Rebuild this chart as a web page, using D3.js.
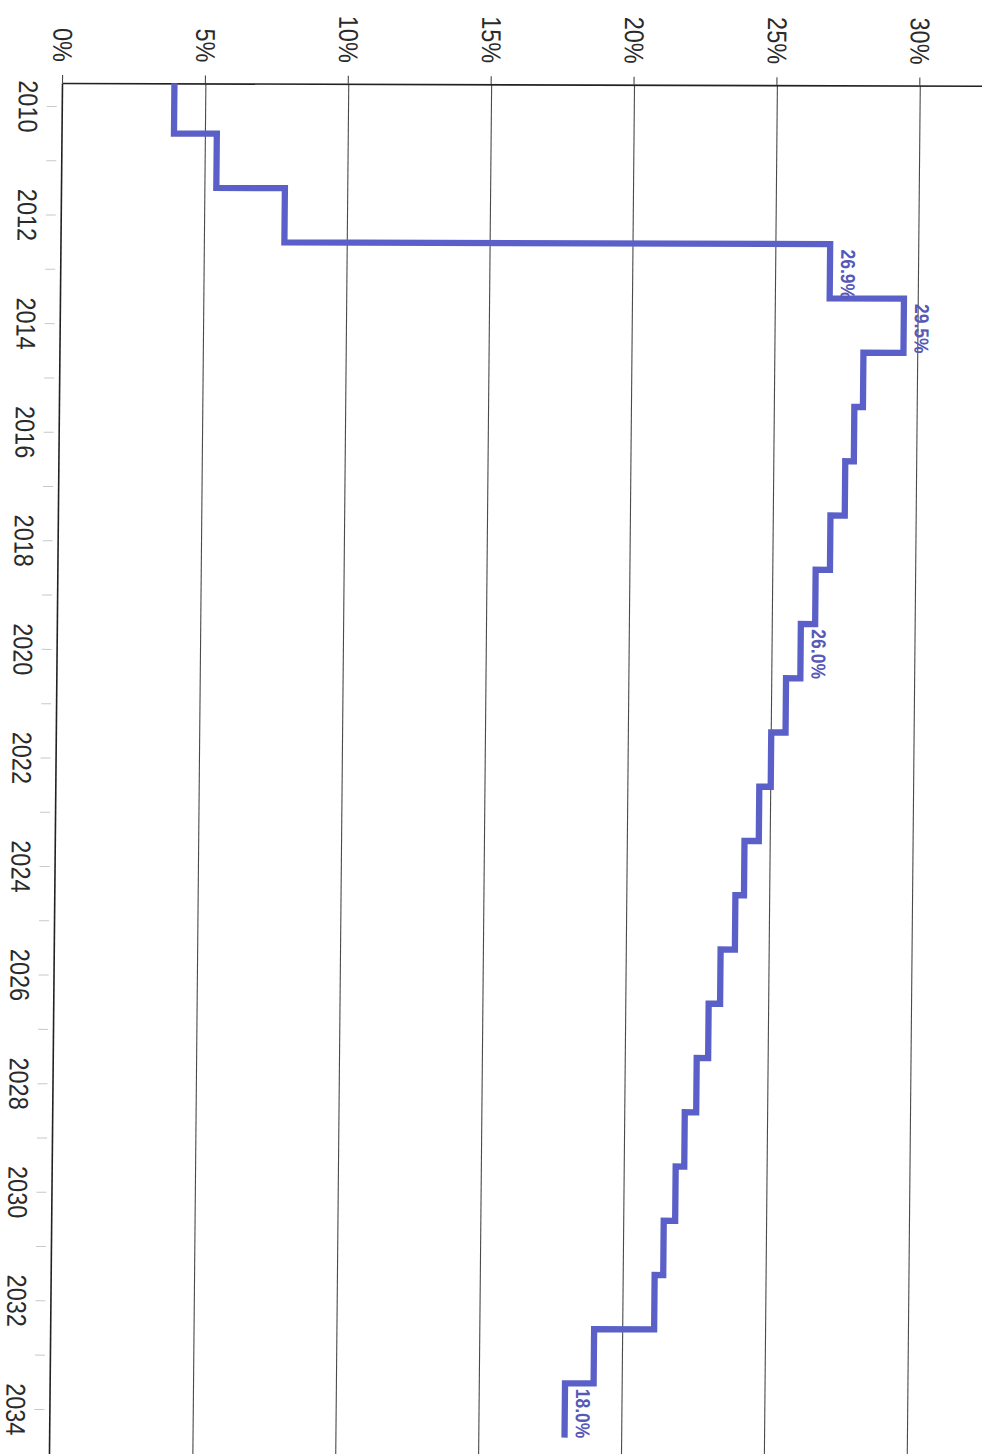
<!DOCTYPE html>
<html>
<head>
<meta charset="utf-8">
<script src="https://cdn.jsdelivr.net/npm/d3@7"></script>
<style>
  html, body { margin: 0; padding: 0; background: #fff; }
  svg { display: block; font-family: Arial, "Liberation Sans", sans-serif; }
</style>
</head>
<body>
<svg id="chart"></svg>
<script>
// data (shown rotated 90 degrees)
const years = d3.range(2010, 2035);
const rates = [3.9, 5.4, 7.8, 26.9, 29.5, 28.1, 27.8, 27.5, 27.0, 26.5, 26.0, 25.5, 25.0,
               24.6, 24.1, 23.8, 23.3, 22.9, 22.5, 22.1, 21.8, 21.4, 21.1, 19.0, 18.0];
const percentTicks = [0, 5, 10, 15, 20, 25, 30];
const labelledYears = [2013, 2014, 2020, 2034];

const svgWidth = 982, svgHeight = 1454;
const origin = { x: 63, y: 83 };   // corner of the axes on the page
const W = 1371;                    // length of the year axis (runs down the page)
const H = 923;                     // length of the percent axis (runs across)
const lineColor = "#5b60c9";
const textColor = "#5659b8";
const stretch = 1.15;              // scanned glyphs are a bit taller than wide

const svg = d3.select("#chart")
    .attr("width", svgWidth)
    .attr("height", svgHeight);

// the scan is slightly skewed
const skew = svg.append("g")
    .attr("transform", `matrix(1, 0.003, -0.0095, 1, ${0.0095 * origin.y}, ${-0.003 * origin.x})`);

// chart drawn in its normal orientation, then turned a quarter turn clockwise
const g = skew.append("g")
    .attr("transform", `translate(${origin.x + H}, ${origin.y}) rotate(90)`);

const xScale = d3.scaleLinear()
    .domain([2009.576, 2034.83])
    .range([0, W]);

const yScale = d3.scaleLinear()
    .domain([0, 32.3])
    .range([H, 0]);

g.append("defs").append("clipPath")
    .attr("id", "plot-clip")
    .append("rect")
    .attr("x", 0).attr("y", -10)
    .attr("width", W).attr("height", H + 10);

// gridlines
g.append("g")
    .selectAll("line")
    .data(percentTicks.filter(d => d > 0))
    .enter().append("line")
    .attr("x1", 0)
    .attr("x2", W)
    .attr("y1", d => yScale(d))
    .attr("y2", d => yScale(d))
    .attr("stroke", "#4a4a4a")
    .attr("stroke-width", 1.1);

// percent axis (top of the page)
const yAxis = d3.axisLeft(yScale)
    .tickValues(percentTicks)
    .tickFormat(d => d + "%")
    .tickSizeInner(8)
    .tickSizeOuter(0)
    .tickPadding(13);

const yAxisG = g.append("g").call(yAxis);
yAxisG.select(".domain").attr("stroke", "#222").attr("stroke-width", 1.6);
yAxisG.selectAll(".tick line").attr("stroke", "#4a4a4a").attr("stroke-width", 1.1);
yAxisG.selectAll(".tick text")
    .attr("font-size", 23.5)
    .attr("fill", "#2a2a2a")
    .attr("dy", null)
    .attr("dominant-baseline", "central")
    .attr("transform", function () {
        const x = +d3.select(this).attr("x");
        return `translate(${x},0) scale(1,${stretch}) translate(${-x},0)`;
    });

// year axis (left side of the page)
const xAxis = d3.axisBottom(xScale)
    .tickValues(years)
    .tickFormat(d => (d % 2 === 0 ? d : ""))
    .tickSizeOuter(0);

const xAxisG = g.append("g")
    .attr("transform", `translate(0, ${H})`)
    .call(xAxis);
xAxisG.select(".domain").attr("stroke", "#222").attr("stroke-width", 1.6);
xAxisG.selectAll(".tick line")
    .attr("y1", 6)
    .attr("y2", 16)
    .attr("stroke", "#c8c8c8")
    .attr("stroke-width", 1);
xAxisG.selectAll(".tick text")
    .attr("y", 0)
    .attr("dy", null)
    .attr("font-size", 23.5)
    .attr("fill", "#2a2a2a")
    .attr("dominant-baseline", "central")
    .attr("transform", `translate(0, 34.5) scale(1, ${stretch})`);

// stepped line: each year's value holds for the whole year around its tick
const stepPoints = years.flatMap((year, i) => [
    { year: year - 0.5, rate: rates[i] },
    { year: year + 0.5, rate: rates[i] }
]);

const line = d3.line()
    .x(d => xScale(d.year))
    .y(d => yScale(d.rate));

g.append("path")
    .datum(stepPoints)
    .attr("clip-path", "url(#plot-clip)")
    .attr("fill", "none")
    .attr("stroke", lineColor)
    .attr("stroke-width", 6.3)
    .attr("stroke-linejoin", "miter")
    .attr("d", line);

// value labels
g.append("g")
    .selectAll("text")
    .data(labelledYears)
    .enter().append("text")
    .attr("transform", d => `translate(${xScale(d) + 3}, ${yScale(rates[years.indexOf(d)]) - 11}) scale(1, ${stretch})`)
    .attr("text-anchor", "middle")
    .attr("font-size", 17.5)
    .attr("font-weight", "bold")
    .attr("fill", textColor)
    .text(d => rates[years.indexOf(d)].toFixed(1) + "%");
</script>
</body>
</html>
